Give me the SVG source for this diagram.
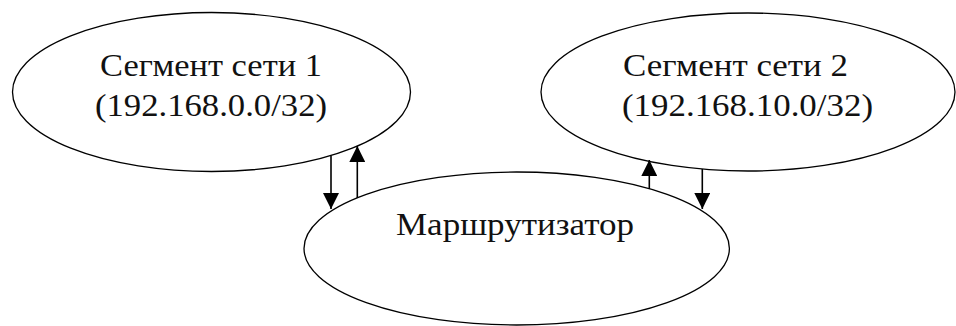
<svg xmlns="http://www.w3.org/2000/svg" width="956" height="326" viewBox="0 0 956 326">
<style>
.node ellipse { fill: #ffffff; stroke: #000000; stroke-width: 1.3; }
.node text { font-family: "Liberation Serif", "Times New Roman", serif; font-size: 31.5px; fill: #111111; }
.edge { stroke: #000000; stroke-width: 1.6; fill: none; marker-end: url(#arrow); }
</style>
<defs>
<marker id="arrow" viewBox="0 0 16 16" refX="16" refY="8" markerWidth="16" markerHeight="16" markerUnits="userSpaceOnUse" orient="auto">
<path d="M0,0 L16,8 L0,16 Z" fill="#000000"/>
</marker>
</defs>
<g id="router" class="node">
<ellipse cx="516.7" cy="248.5" rx="212.7" ry="76.5"/>
<text x="396" y="235" textLength="238" lengthAdjust="spacingAndGlyphs">Маршрутизатор</text>
</g>
<g id="segment1" class="node">
<ellipse cx="211.5" cy="92" rx="199" ry="79.5"/>
<text x="100" y="76" textLength="222" lengthAdjust="spacingAndGlyphs">Сегмент сети 1</text>
<text x="95" y="116" textLength="232" lengthAdjust="spacingAndGlyphs">(192.168.0.0/32)</text>
</g>
<g id="segment2" class="node">
<ellipse cx="748" cy="92" rx="207" ry="79"/>
<text x="623" y="76" textLength="225" lengthAdjust="spacingAndGlyphs">Сегмент сети 2</text>
<text x="622" y="116" textLength="251" lengthAdjust="spacingAndGlyphs">(192.168.10.0/32)</text>
</g>
<g id="connectors">
<line class="edge" x1="331" y1="155.5" x2="331" y2="209"/>
<line class="edge" x1="357.3" y1="198" x2="357.3" y2="146"/>
<line class="edge" x1="649.3" y1="189" x2="649.3" y2="160"/>
<line class="edge" x1="702.3" y1="169" x2="702.3" y2="209"/>
</g>
</svg>
